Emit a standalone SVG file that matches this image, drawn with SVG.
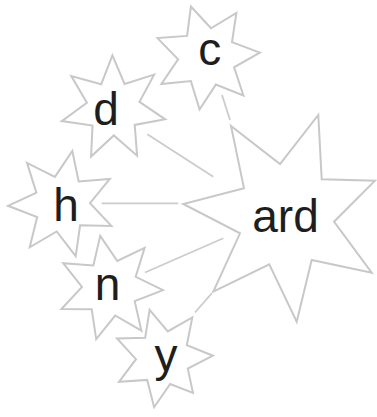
<svg xmlns="http://www.w3.org/2000/svg" width="377" height="417" viewBox="0 0 377 417">
<style>
.star{fill:none;stroke:#c8c8c8;stroke-width:2;stroke-linejoin:miter}
.edge{stroke:#cccccc;stroke-width:1.8;fill:none}
.lbl{font-family:"Liberation Sans",Arial,sans-serif;font-size:46px;fill:#1e1e1e;text-anchor:middle}
</style>
<rect width="377" height="417" fill="#ffffff"/>
<g id="connectors">
<line class="edge" x1="222" y1="95" x2="230" y2="120"/>
<line class="edge" x1="147.3" y1="134.3" x2="213.3" y2="176.7"/>
<line class="edge" x1="101.7" y1="203.3" x2="178.3" y2="203.3"/>
<line class="edge" x1="145" y1="272.5" x2="223.3" y2="238.3"/>
<line class="edge" x1="195" y1="312.5" x2="211.7" y2="293.3"/>
</g>
<g id="node-ard">
<polygon class="star" points="318.3,115 321.7,179.3 375,180.7 334,221.7 371.7,272.7 311.7,260 296.7,321.7 269.3,264.3 213.3,291.7 240,233.3 183.3,204 244,188.3 231,126 280,164"/>
<text class="lbl" x="285.5" y="231.5">ard</text>
</g>
<g id="node-c">
<polygon class="star" points="190.9,6.5 211,28.3 236.4,12.9 232,42.2 259.8,52.6 234.1,67.3 243.4,95.5 215.8,84.6 199.6,109.5 190.9,81.1 161.4,84 178.1,59.4 157.5,38.1 187.1,35.9"/>
<text class="lbl" x="209.7" y="65">c</text>
</g>
<g id="node-d">
<polygon class="star" points="112.4,55.4 124.6,83.9 154.1,74.6 139.5,101.9 165.2,119.3 134.7,124.9 137.1,155.7 113.8,135.4 91.1,156.5 92.5,125.6 61.8,121.1 86.9,102.8 71.3,76.1 101.2,84.3"/>
<text class="lbl" x="106" y="125">d</text>
</g>
<g id="node-h">
<polygon class="star" points="72.3,151 78.7,181.5 109.8,179 90,203.1 111.4,225.9 80.1,225.3 75.7,256.2 56.7,231.5 29.7,247.3 37.2,217 8,205.8 36.4,192.7 27,162.9 54.9,176.9"/>
<text class="lbl" x="66" y="221">h</text>
</g>
<g id="node-n">
<polygon class="star" points="100.2,235.9 117.3,261 144.6,247.9 135.7,276.8 163,290.1 134.7,301.1 141.4,330.7 115.2,315.5 96.2,339.1 91.7,309.2 61.4,309.1 82,286.9 63.2,263.2 93.4,265.5"/>
<text class="lbl" x="107.5" y="300">n</text>
</g>
<g id="node-y">
<polygon class="star" points="149.6,309.8 167.8,331.4 192.3,317.5 186.8,345.2 212.9,355.7 187.8,368.6 193,393 170.2,384 154.1,407.2 147.2,379.9 119,381.8 136,359.2 117,338.4 145.2,337.7"/>
<text class="lbl" x="166" y="371">y</text>
</g>
</svg>
